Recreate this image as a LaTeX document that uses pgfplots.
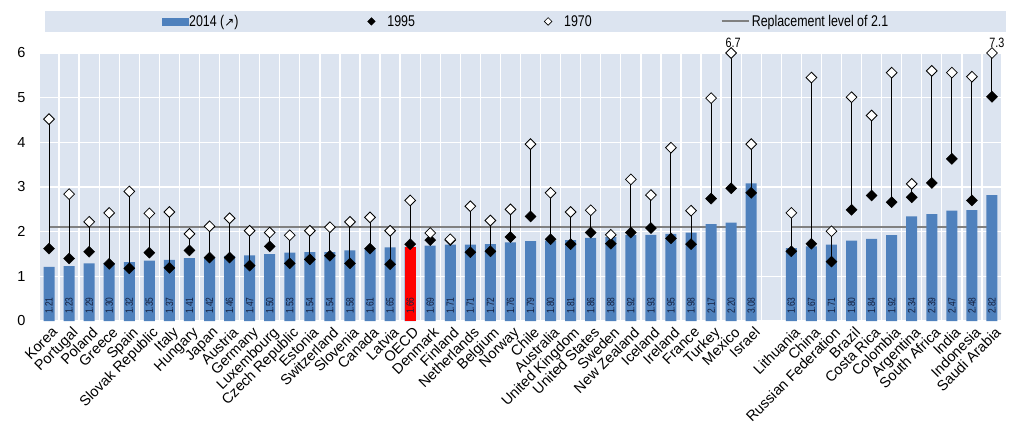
\documentclass[border=0pt]{standalone}
\usepackage{pgfplots}
\pgfplotsset{compat=1.18}
\usepackage{pgfplotstable}
\usepackage{fontspec}
\setmainfont{Liberation Sans}
\newfontfamily\narrowfont[FakeStretch=0.8]{Liberation Sans}
\newfontfamily\dejavu{DejaVu Sans}
\definecolor{barblue}{RGB}{79,129,189}
\definecolor{bgblue}{RGB}{220,228,240}
\definecolor{lblcol}{RGB}{20,32,64}
\definecolor{repgray}{RGB}{128,128,128}
\definecolor{oecdred}{RGB}{255,0,0}

\pgfplotstableread{
x bar y95 y70
0 1.21 1.62 4.52
1 1.23 1.40 2.84
2 1.29 1.55 2.22
3 1.30 1.28 2.42
4 1.32 1.18 2.90
5 1.35 1.53 2.41
6 1.37 1.19 2.44
7 1.41 1.58 1.95
8 1.42 1.42 2.12
9 1.46 1.42 2.30
10 1.47 1.24 2.02
11 1.50 1.67 1.98
12 1.53 1.29 1.92
13 1.54 1.38 2.02
14 1.54 1.46 2.10
15 1.58 1.29 2.22
16 1.61 1.62 2.32
17 1.65 1.27 2.02
18 1.66 1.72 2.70
19 1.69 1.81 1.97
20 1.71 1.81 1.83
21 1.71 1.54 2.57
22 1.72 1.56 2.25
23 1.76 1.88 2.50
24 1.79 2.34 3.96
25 1.80 1.83 2.87
26 1.81 1.72 2.44
27 1.86 1.98 2.48
28 1.88 1.73 1.93
29 1.92 1.98 3.17
30 1.93 2.08 2.82
31 1.95 1.85 3.88
32 1.98 1.72 2.47
33 2.17 2.74 4.99
34 2.20 2.97 6.7
35 3.08 2.87 3.96
37 1.63 1.56 2.42
38 1.67 1.73 5.45
39 1.71 1.33 2.01
40 1.80 2.49 5.01
41 1.84 2.81 4.60
42 1.92 2.66 5.56
43 2.34 2.77 3.07
44 2.39 3.09 5.60
45 2.47 3.63 5.56
46 2.48 2.70 5.47
47 2.82 5.02 7.3
}\datatable

\begin{document}
\begin{tikzpicture}
\useasboundingbox (0,0) rectangle (1014pt,423pt);
\begin{axis}[
  at={(40pt,102pt)}, anchor=south west,
  scale only axis, width=961pt, height=268pt,
  xmin=-0.45, xmax=47.45, ymin=0, ymax=6,
  clip=false,
  axis line style={draw=none},
  axis background/.style={fill=bgblue},
  major tick length=0pt, minor tick length=0pt,
  ytick={0,1,2,3,4,5,6},
  ymajorgrids=true,
  major grid style={white, line width=1.3pt},
  xtick={0,1,2,3,4,5,6,7,8,9,10,11,12,13,14,15,16,17,18,19,20,21,22,23,24,25,26,27,28,29,30,31,32,33,34,35,37,38,39,40,41,42,43,44,45,46,47},
  minor xtick={0.5,1.5,...,46.5},
  xminorgrids=true,
  minor grid style={white, line width=1.3pt},
  xticklabels={Korea,Portugal,Poland,Greece,Spain,Slovak Republic,Italy,Hungary,Japan,Austria,Germany,Luxembourg,Czech Republic,Estonia,Switzerland,Slovenia,Canada,Latvia,OECD,Denmark,Finland,Netherlands,Belgium,Norway,Chile,Australia,United Kingdom,United States,Sweden,New Zealand,Iceland,Ireland,France,Turkey,Mexico,Israel,Lithuania,China,Russian Federation,Brazil,Costa Rica,Colombia,Argentina,South Africa,India,Indonesia,Saudi Arabia},
  xticklabel style={rotate=45, anchor=north east, inner sep=0pt, font=\fontsize{14.5}{16}\selectfont, xshift=-2pt, yshift=-5pt},
  yticklabel style={font=\fontsize{14.5}{16}\selectfont, xshift=-11pt},
  /pgf/number format/assume math mode=true,
  legend columns=4,
  legend style={at={(0.5,1)}, anchor=south, yshift=21pt, xshift=5pt, draw=none, fill=bgblue,
    inner xsep=117pt, inner ysep=3pt,
    font=\narrowfont\fontsize{15.5}{17}\selectfont,
    /tikz/every even column/.append style={column sep=128pt},
    nodes={inner sep=1pt}},
  legend cell align=left,
]
% replacement level
\addplot[repgray, line width=2pt, forget plot] coordinates {(0,2.1) (35,2.1)};
\addplot[repgray, line width=2pt, forget plot] coordinates {(37,2.1) (47,2.1)};
% bars
\addplot[ybar, bar width=11pt, fill=barblue, draw=none, forget plot] table[x=x,y=bar]{\datatable};
\addplot[ybar, bar width=11pt, fill=oecdred, draw=none, forget plot] coordinates {(18,1.66)};
% bar value labels
\addplot[draw=none, mark=none, forget plot, point meta=explicit,
  nodes near coords={\pgfmathprintnumber[fixed, fixed zerofill, precision=2, assume math mode=true]{\pgfplotspointmeta}},
  nodes near coords style={yshift=6pt, rotate=90, anchor=west, inner sep=1pt, text=lblcol, font=\narrowfont\fontsize{10.5}{11}\selectfont}]
  table[x=x, y expr=0, meta=bar]{\datatable};
% stems
\addplot[forget plot, draw=none, mark=none,
  error bars/.cd, y dir=minus, y explicit, error mark=none,
  error bar style={draw=black, line width=1pt}]
  table[x=x, y expr={min(\thisrow{y70},6)}, y error minus expr={min(\thisrow{y70},6)-\thisrow{y95}}]{\datatable};
% 1995
\addplot[forget plot, only marks, mark=square*, mark size=3.9pt,
  mark options={rotate=45, fill=black, draw=black}] table[x=x,y=y95]{\datatable};
% 1970
\addplot[forget plot, only marks, mark=square*, mark size=3.8pt,
  mark options={rotate=45, fill=white, draw=black, line width=0.8pt}]
  table[x=x, y expr={min(\thisrow{y70},6)}]{\datatable};
\node[font=\narrowfont\fontsize{13.5}{14}\selectfont, anchor=south, inner sep=0pt, yshift=5pt, xshift=2pt] at (axis cs:34,6) {6.7};
\node[font=\narrowfont\fontsize{13.5}{14}\selectfont, anchor=south, inner sep=0pt, yshift=5pt, xshift=5pt] at (axis cs:47,6) {7.3};
% legend
\addlegendimage{legend image code/.code={\fill[barblue] (0pt,-3.5pt) rectangle (26pt,3.5pt);}}
\addlegendentry{2014 ({\dejavu\fontsize{12}{13}\selectfont ↗})}
\addlegendimage{legend image code/.code={\path[draw=none,fill=none] (-4pt,0pt) rectangle (15pt,0.1pt); \fill[black] (0pt,3.8pt) -- (3.8pt,0pt) -- (0pt,-3.8pt) -- (-3.8pt,0pt) -- cycle;}}
\addlegendentry{1995}
\addlegendimage{legend image code/.code={\path[draw=none,fill=none] (-4pt,0pt) rectangle (15pt,0.1pt); \filldraw[fill=white, draw=black, line width=0.6pt] (0pt,3.8pt) -- (3.8pt,0pt) -- (0pt,-3.8pt) -- (-3.8pt,0pt) -- cycle;}}
\addlegendentry{1970}
\addlegendimage{legend image code/.code={\draw[repgray, line width=2pt] (0pt,0pt) -- (27pt,0pt); \path[draw=none] (29pt,0pt) -- (29.1pt,0pt);}}
\addlegendentry{Replacement level of 2.1}
\end{axis}
\end{tikzpicture}
\end{document}
